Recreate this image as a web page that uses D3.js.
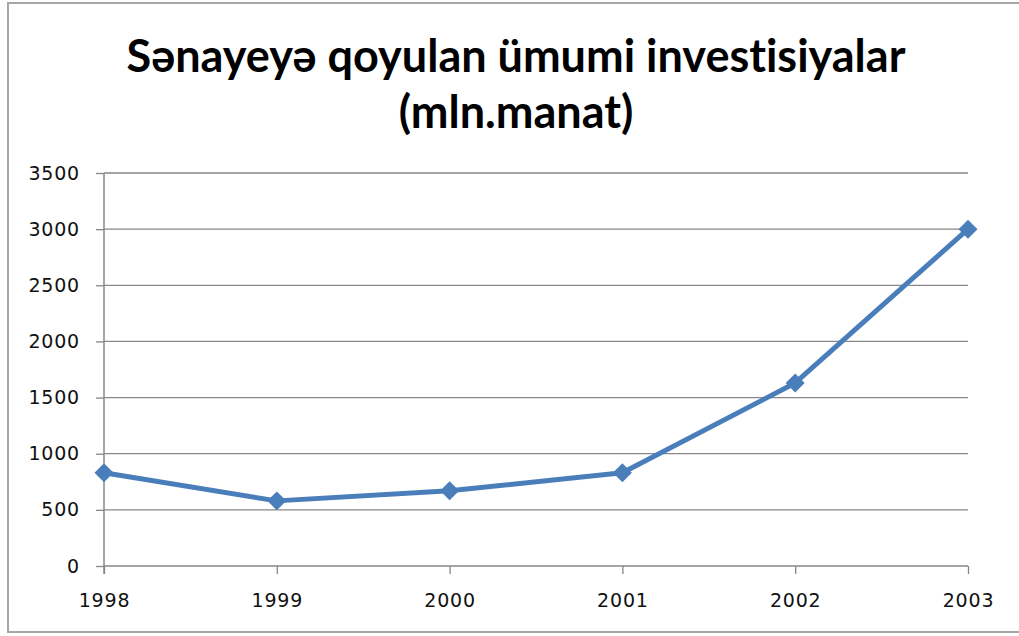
<!DOCTYPE html>
<html>
<head>
<meta charset="utf-8">
<script src="https://cdn.jsdelivr.net/npm/d3@7"></script>
<style>
  body { margin: 0; background: #fff; }
  svg { display: block; }
  .tick text { font-family: "DejaVu Sans", sans-serif; font-size: 19px; letter-spacing: 0.8px; fill: #111; }
</style>
</head>
<body>
<div class="chart-container"></div>
<script>
// chart data
const years = ["1998", "1999", "2000", "2001", "2002", "2003"];
const investments = [830, 580, 670, 830, 1630, 3000];
const yTicks = [0, 500, 1000, 1500, 2000, 2500, 3000, 3500];
const titleLines = ["Sənayeyə qoyulan ümumi investisiyalar", "(mln.manat)"];

const width = 1019, height = 636;
const plot = { left: 104, right: 968, top: 173, bottom: 566 };

const svg = d3.select(".chart-container")
  .append("svg")
  .attr("width", width)
  .attr("height", height);

// outer frame (left, top, bottom only - right edge is cropped)
svg.append("path")
  .attr("d", `M1019,3 H8 V632 H1019`)
  .attr("fill", "none")
  .attr("stroke", "#a6a6a6")
  .attr("stroke-width", 2);

// title
svg.append("g")
  .selectAll("text")
  .data(titleLines)
  .join("text")
  .attr("x", 516)
  .attr("y", (d, i) => 72 + i * 56)
  .attr("text-anchor", "middle")
  .attr("font-family", "Lato, 'Open Sans', sans-serif")
  .attr("font-weight", "bold")
  .attr("font-size", 45)
  .style("font-variant-ligatures", "none")
  .attr("fill", "#000")
  .text(d => d);

const xScale = d3.scalePoint()
  .domain(years)
  .range([plot.left, plot.right]);

const yScale = d3.scaleLinear()
  .domain([0, 3500])
  .range([plot.bottom, plot.top]);

// horizontal gridlines
svg.append("g")
  .selectAll("line")
  .data(yTicks.filter(d => d > 0))
  .join("line")
  .attr("x1", plot.left)
  .attr("x2", plot.right)
  .attr("y1", d => yScale(d))
  .attr("y2", d => yScale(d))
  .attr("stroke", "#878787")
  .attr("stroke-width", 1.3);

const yAxis = d3.axisLeft(yScale)
  .tickValues(yTicks)
  .tickSize(8)
  .tickPadding(16)
  .tickFormat(d3.format("d"));

svg.append("g")
  .attr("transform", `translate(${plot.left},0)`)
  .call(yAxis)
  .call(g => g.select(".domain").attr("stroke", "#878787").attr("stroke-width", 1.5).attr("d", `M0,${plot.top}V${plot.bottom + 8}`))
  .call(g => g.selectAll(".tick line").attr("stroke", "#878787").attr("stroke-width", 1.3));

const xAxis = d3.axisBottom(xScale)
  .tickSize(8)
  .tickPadding(20);

svg.append("g")
  .attr("transform", `translate(0,${plot.bottom})`)
  .call(xAxis)
  .call(g => g.select(".domain").attr("stroke", "#878787").attr("stroke-width", 1.5).attr("d", `M${plot.left},0H${plot.right}`))
  .call(g => g.selectAll(".tick line").attr("stroke", "#878787").attr("stroke-width", 1.3));

// series line
const line = d3.line()
  .x((d, i) => xScale(years[i]))
  .y(d => yScale(d));

svg.append("path")
  .datum(investments)
  .attr("fill", "none")
  .attr("stroke", "#4a7ebb")
  .attr("stroke-width", 5)
  .attr("stroke-linejoin", "round")
  .attr("d", line);

// diamond markers
svg.append("g")
  .selectAll("path")
  .data(investments)
  .join("path")
  .attr("transform", (d, i) => `translate(${xScale(years[i])},${yScale(d)})`)
  .attr("d", d3.symbol(d3.symbolDiamond2, 230))
  .attr("fill", "#4a7ebb");
</script>
</body>
</html>
